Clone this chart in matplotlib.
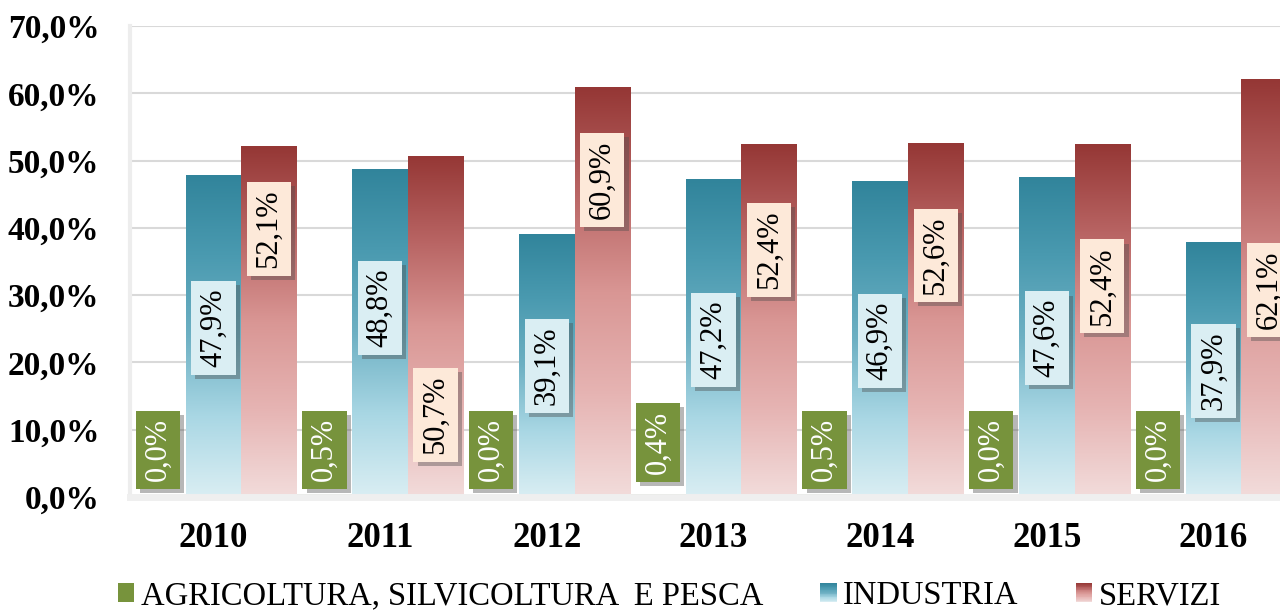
import matplotlib
matplotlib.use('Agg')
import matplotlib.pyplot as plt
import matplotlib.patheffects as pe
from matplotlib.colors import LinearSegmentedColormap
from matplotlib.legend_handler import HandlerBase
from matplotlib.patches import Rectangle
from matplotlib.ticker import FuncFormatter
import numpy as np

plt.rcParams['font.family'] = ['Liberation Serif', 'DejaVu Serif']

years = ['2010', '2011', '2012', '2013', '2014', '2015', '2016']
agricoltura = [0.0, 0.5, 0.0, 0.4, 0.5, 0.0, 0.0]
industria = [47.9, 48.8, 39.1, 47.2, 46.9, 47.6, 37.9]
servizi = [52.1, 50.7, 60.9, 52.4, 52.6, 52.4, 62.1]
names = ['AGRICOLTURA, SILVICOLTURA  E PESCA', 'INDUSTRIA', 'SERVIZI']

# where the (hand moved) data labels sit on the value axis
lbl_agri = [7.0, 7.0, 7.0, 8.1, 7.0, 7.0, 7.0]
lbl_ind = [25.1, 28.1, 19.5, 23.3, 23.2, 23.6, 18.7]
lbl_serv = [39.8, 12.2, 47.1, 36.7, 35.9, 31.3, 30.8]

green = '#77933C'
blue_cmap = LinearSegmentedColormap.from_list(
    'ind', ['#DAEEF3', '#A9D7E4', '#6DB0C3', '#4A9AB0', '#31849B'])
red_cmap = LinearSegmentedColormap.from_list(
    'serv', ['#F2DCDB', '#E6B4B3', '#D99694', '#B86463', '#953735'])


def gradient_bars(ax, bars, cmap):
    grad = np.linspace(0, 1, 256).reshape(-1, 1)
    for b in bars:
        x, y = b.get_x(), b.get_y()
        w, h = b.get_width(), b.get_height()
        im = ax.imshow(grad, cmap=cmap, aspect='auto', origin='lower',
                       extent=(x, x + w, y, y + h), zorder=2)
        im.set_clip_path(b)
        b.set_facecolor('none')


def add_labels(ax, xs, vals, ys, face, color):
    for x, v, y in zip(xs, vals, ys):
        t = ax.text(x, y, f'{v:.1f}%'.replace('.', ','), rotation=90,
                    ha='center', va='center', fontsize=22, color=color, zorder=5,
                    bbox=dict(boxstyle='square,pad=0.25', fc=face, ec='none'))
        t.get_bbox_patch().set_path_effects(
            [pe.withSimplePatchShadow(offset=(3, -3), shadow_rgbFace='0.3', alpha=0.4),
             pe.Normal()])


class GradientHandler(HandlerBase):
    def __init__(self, cmap):
        super().__init__()
        self.cmap = cmap

    def create_artists(self, legend, orig_handle, xdescent, ydescent,
                       width, height, fontsize, trans):
        n = 24
        arts = []
        for i in range(n):
            arts.append(Rectangle((-xdescent, -ydescent + height * i / n), width,
                                  height / n * 1.05, fc=self.cmap((i + 0.5) / n),
                                  ec='none', transform=trans))
        return arts


fig = plt.figure(figsize=(12.8, 6.12), dpi=100)
ax = fig.add_axes([0.1016, 0.188, 0.9115, 0.7695])

x = np.arange(len(years))
w = 1 / 3
b_agri = ax.bar(x - w, agricoltura, w, color=green, zorder=2)
b_ind = ax.bar(x, industria, w, zorder=2, ec='none')
b_serv = ax.bar(x + w, servizi, w, zorder=2, ec='none')
gradient_bars(ax, b_ind, blue_cmap)
gradient_bars(ax, b_serv, red_cmap)

add_labels(ax, x - w, agricoltura, lbl_agri, green, 'white')
add_labels(ax, x, industria, lbl_ind, '#DAEEF3', 'black')
add_labels(ax, x + w, servizi, lbl_serv, '#FDE9D9', 'black')

ax.set_xlim(-0.5, 6.5)
ax.set_ylim(0, 70)
ax.set_yticks(np.arange(0, 71, 10))
ax.yaxis.set_major_formatter(FuncFormatter(lambda v, p: f'{v:.1f}%'.replace('.', ',')))
ax.set_xticks(x, years)
for lab in ax.get_yticklabels():
    lab.set_fontweight('bold')
    lab.set_fontsize(24)
for lab in ax.get_xticklabels():
    lab.set_fontweight('bold')
    lab.set_fontsize(25)
ax.tick_params(axis='x', length=0, pad=18)
ax.tick_params(axis='y', length=0, pad=22)

ax.set_axisbelow(True)
ax.yaxis.grid(True, color='#D9D9D9', lw=1.5)
for s in ['top', 'right']:
    ax.spines[s].set_visible(False)
ax.spines['left'].set_color('#EDEDED')
ax.spines['left'].set_linewidth(3)
ax.spines['bottom'].set_color('#EFEFEF')
ax.spines['bottom'].set_linewidth(5)

h_agri = Rectangle((0, 0), 1, 1, fc=green, ec='none')
h_ind = Rectangle((0, 0), 1, 1)
h_serv = Rectangle((0, 0), 1, 1)
fig.legend([h_agri, h_ind, h_serv], names, loc='center', bbox_to_anchor=(0.523, 0.026),
           ncol=3, frameon=False, fontsize=23.5, handlelength=0.5, handleheight=0.5,
           handletextpad=0.2, columnspacing=1.75,
           handler_map={h_ind: GradientHandler(blue_cmap), h_serv: GradientHandler(red_cmap)})

fig.savefig('out.png', dpi=100)
